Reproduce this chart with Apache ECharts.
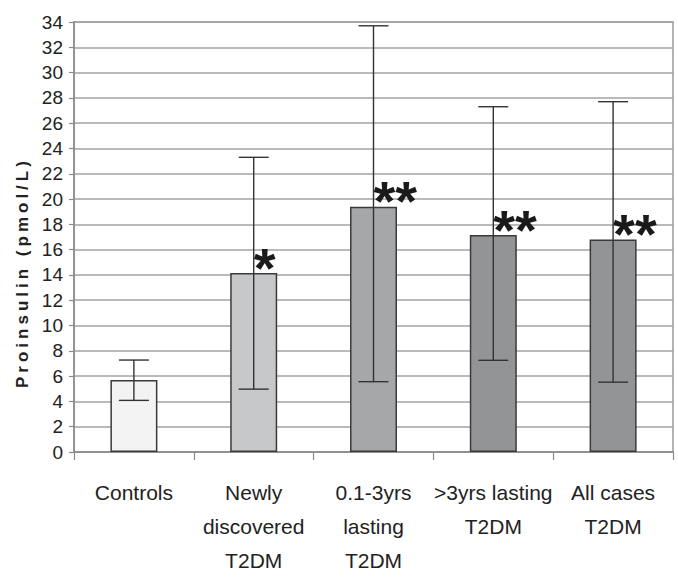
<!DOCTYPE html>
<html>
<head>
<meta charset="utf-8">
<script src="https://cdn.jsdelivr.net/npm/echarts@6/dist/echarts.min.js"></script>
<style>
html,body{margin:0;padding:0;background:#fff;}
#c{width:678px;height:577px;}
</style>
</head>
<body>
<div id="c"></div>
<script>
// ---- data ----
var categories = ['Controls', 'Newly\ndiscovered\nT2DM', '0.1-3yrs\nlasting\nT2DM', '>3yrs lasting\nT2DM', 'All cases\nT2DM'];
var means = [5.7, 14.15, 19.4, 17.15, 16.8];
var lowerErr = [4.08, 4.97, 5.56, 7.25, 5.52];
var upperErr = [7.27, 23.3, 33.7, 27.3, 27.7];
var marks = ['', '*', '**', '**', '**'];
var barColors = ['#f2f3f2', '#c7c8ca', '#a6a7a9', '#939496', '#939496'];
var yTicks = {min: 0, max: 34, interval: 2};
var yTitle = 'Proinsulin (pmol/L)';

var sans = "'Liberation Sans', Arial, sans-serif";

var chart = echarts.init(document.getElementById('c'), null, {renderer: 'svg'});

var errData = categories.map(function (c, i) { return [i, lowerErr[i], upperErr[i]]; });

chart.setOption({
  animation: false,
  backgroundColor: '#fff',
  grid: {left: 74, right: 5, top: 22, bottom: 119, show: true, borderColor: '#9a9a9a', borderWidth: 1.5},
  xAxis: {
    type: 'category',
    data: categories,
    axisLine: {lineStyle: {color: '#8a8a8a', width: 1.5}},
    axisTick: {show: true, length: 8, lineStyle: {color: '#8a8a8a', width: 1.2}},
    axisLabel: {color: '#222', fontFamily: sans, fontSize: 21, lineHeight: 34, margin: 23, interval: 0}
  },
  yAxis: {
    type: 'value',
    min: yTicks.min, max: yTicks.max, interval: yTicks.interval,
    axisLine: {show: true, lineStyle: {color: '#8a8a8a', width: 1.5}},
    axisTick: {show: true, length: 5, lineStyle: {color: '#8a8a8a', width: 1.2}},
    axisLabel: {color: '#222', fontFamily: sans, fontSize: 19, margin: 11},
    splitLine: {lineStyle: {color: '#a3a3a3', width: 1.5}}
  },
  graphic: [{
    type: 'text',
    id: 'ytitle',
    x: 22.5, y: 388,
    rotation: Math.PI / 2,
    style: {
      text: yTitle,
      fill: '#222',
      fontSize: 17,
      fontWeight: 'bold',
      fontFamily: sans,
      textAlign: 'left',
      textVerticalAlign: 'middle'
    }
  }],
  series: [{
    type: 'bar',
    barWidth: 47,
    data: means.map(function (v, i) {
      return {value: v, itemStyle: {color: barColors[i]}};
    }),
    itemStyle: {borderColor: '#3a3a3a', borderWidth: 1.5},
    label: {
      show: true,
      position: ['50%', -6],
      align: 'left',
      verticalAlign: 'middle',
      formatter: function (p) { return marks[p.dataIndex]; },
      color: '#1a1a1a',
      fontFamily: sans,
      fontWeight: 'bold',
      fontSize: 56
    },
    z: 2
  }, {
    type: 'custom',
    data: errData,
    z: 5,
    renderItem: function (params, api) {
      var x = api.value(0);
      var lo = api.coord([x, api.value(1)]);
      var hi = api.coord([x, api.value(2)]);
      var hw = 15;
      var st = {stroke: '#333', lineWidth: 1.4};
      return {
        type: 'group',
        children: [
          {type: 'line', shape: {x1: lo[0], y1: lo[1], x2: hi[0], y2: hi[1]}, style: st},
          {type: 'line', shape: {x1: hi[0] - hw, y1: hi[1], x2: hi[0] + hw, y2: hi[1]}, style: st},
          {type: 'line', shape: {x1: lo[0] - hw, y1: lo[1], x2: lo[0] + hw, y2: lo[1]}, style: st}
        ]
      };
    }
  }]
});

function spaceTitle() {
  var texts = document.querySelectorAll('#c svg text');
  for (var i = 0; i < texts.length; i++) {
    if (texts[i].textContent === yTitle) {
      texts[i].setAttribute('letter-spacing', '4px');
    }
  }
}
chart.on('finished', spaceTitle);
spaceTitle();
setTimeout(spaceTitle, 50);
</script>
</body>
</html>
